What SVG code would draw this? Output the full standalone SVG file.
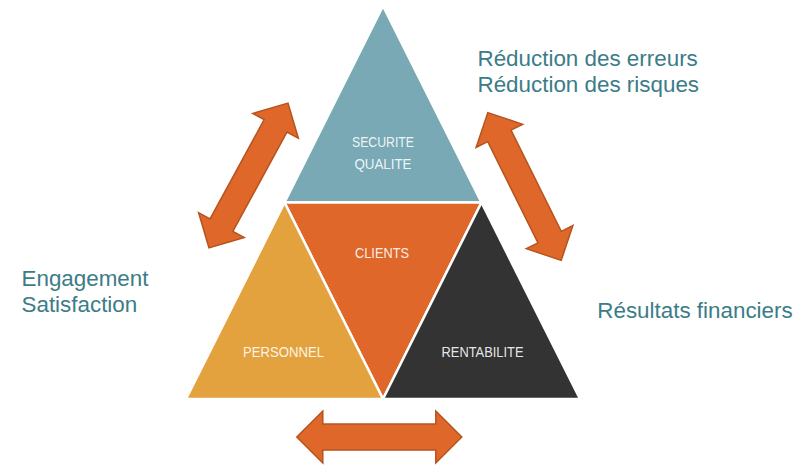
<svg xmlns="http://www.w3.org/2000/svg" width="810" height="467" viewBox="0 0 810 467">
  <defs>
    <style>
      .tri { stroke: #ffffff; stroke-width: 2.5; stroke-linejoin: miter; }
      .lbl { font-family: "Liberation Sans", Arial, sans-serif; font-size: 15px; fill: #ffffff; fill-opacity: 0.9; text-anchor: middle; }
      .side { font-family: "Liberation Sans", Arial, sans-serif; font-size: 22.4px; fill: #3B7C87; }
      .arrow { fill: #E0672A; stroke: #B5541F; stroke-width: 1.5; stroke-linejoin: miter; }
    </style>
    <path id="dbl" d="M-82.5,0 L-56.5,-26 L-56.5,-13 L56.5,-13 L56.5,-26 L82.5,0 L56.5,26 L56.5,13 L-56.5,13 L-56.5,26 Z"/>
  </defs>
  <rect width="810" height="467" fill="#ffffff"/>

  <g id="securite">
    <polygon class="tri" points="383,6 481.5,202.5 284.5,202.5" fill="#78A9B5"/>
    <text class="lbl" x="383" y="146.5" textLength="62" lengthAdjust="spacingAndGlyphs">SECURITE</text>
    <text class="lbl" x="383" y="168.5" textLength="57" lengthAdjust="spacingAndGlyphs">QUALITE</text>
  </g>
  <g id="clients">
    <polygon class="tri" points="284.5,202.5 481.5,202.5 383,399" fill="#E0672A"/>
    <text class="lbl" x="382" y="258.3" textLength="54" lengthAdjust="spacingAndGlyphs">CLIENTS</text>
  </g>
  <g id="personnel">
    <polygon class="tri" points="284.5,202.5 383,399 186,399" fill="#E3A23D"/>
    <text class="lbl" x="283.5" y="356.7" textLength="81" lengthAdjust="spacingAndGlyphs">PERSONNEL</text>
  </g>
  <g id="rentabilite">
    <polygon class="tri" points="481.5,202.5 580,399 383,399" fill="#333333"/>
    <text class="lbl" x="482.5" y="356.7" textLength="82" lengthAdjust="spacingAndGlyphs">RENTABILITE</text>
  </g>

  <g id="connectors">
    <use href="#dbl" class="arrow" transform="translate(248.5,175.5) rotate(-61.4)"/>
    <use href="#dbl" class="arrow" transform="translate(524.5,186.5) rotate(63.6)"/>
    <use href="#dbl" class="arrow" transform="translate(379.3,437)"/>
  </g>

  <g id="label-top">
    <text class="side" x="477.5" y="65.7">Réduction des erreurs</text>
    <text class="side" x="477.5" y="92.3">Réduction des risques</text>
  </g>
  <g id="label-left">
    <text class="side" x="21.5" y="285.7">Engagement</text>
    <text class="side" x="21.5" y="311.7">Satisfaction</text>
  </g>
  <g id="label-right">
    <text class="side" x="597.3" y="317.7">Résultats financiers</text>
  </g>
</svg>
